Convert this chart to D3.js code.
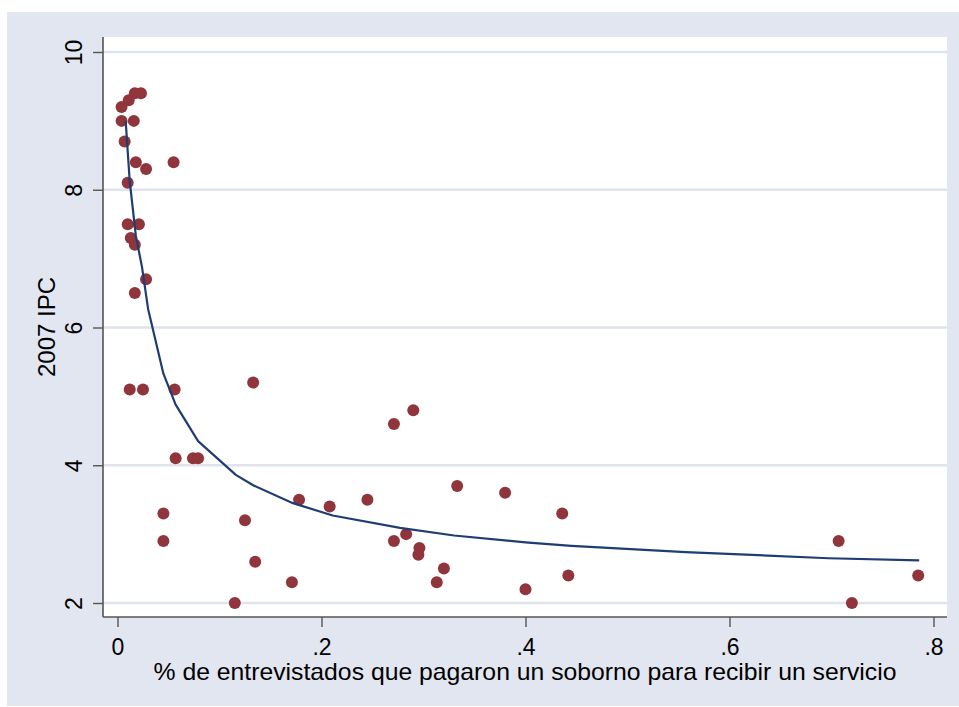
<!DOCTYPE html>
<html>
<head>
<meta charset="utf-8">
<script src="https://cdn.jsdelivr.net/npm/d3@7"></script>
<style>
  html, body { margin: 0; padding: 0; background: #ffffff; }
  svg { display: block; }
  text { font-family: "Liberation Sans", Arial, Helvetica, sans-serif; fill: #000; }
</style>
</head>
<body>
<svg id="chart" width="959" height="707"></svg>
<script>
// ---- Data ----
const bribeShare = [
  0.004, 0.004, 0.011, 0.017, 0.023, 0.016, 0.007, 0.018, 0.028, 0.055,
  0.010, 0.010, 0.021, 0.013, 0.017, 0.028, 0.017, 0.012, 0.025, 0.056,
  0.133, 0.057, 0.074, 0.079, 0.045, 0.045, 0.125, 0.135, 0.115, 0.171,
  0.178, 0.208, 0.245, 0.271, 0.290, 0.271, 0.283, 0.296, 0.295, 0.320,
  0.313, 0.333, 0.380, 0.400, 0.436, 0.442, 0.707, 0.720, 0.785
];
const ipc2007 = [
  9.2, 9.0, 9.3, 9.4, 9.4, 9.0, 8.7, 8.4, 8.3, 8.4,
  8.1, 7.5, 7.5, 7.3, 7.2, 6.7, 6.5, 5.1, 5.1, 5.1,
  5.2, 4.1, 4.1, 4.1, 3.3, 2.9, 3.2, 2.6, 2.0, 2.3,
  3.5, 3.4, 3.5, 4.6, 4.8, 2.9, 3.0, 2.8, 2.7, 2.5,
  2.3, 3.7, 3.6, 2.2, 3.3, 2.4, 2.9, 2.0, 2.4
];
// fitted curve
const fitX = [0.008, 0.012, 0.018, 0.024, 0.030, 0.045, 0.057, 0.079, 0.116, 0.133,
              0.172, 0.211, 0.277, 0.330, 0.400, 0.445, 0.557, 0.697, 0.786];
const fitY = [9.00, 8.12, 7.33, 6.88, 6.27, 5.33, 4.88, 4.35, 3.86, 3.71,
              3.45, 3.27, 3.09, 2.98, 2.88, 2.83, 2.74, 2.65, 2.62];
const xTicks = [0, 0.2, 0.4, 0.6, 0.8];
const xTickLabels = ["0", ".2", ".4", ".6", ".8"];
const yTicks = [2, 4, 6, 8, 10];
const yTickLabels = ["2", "4", "6", "8", "10"];
const xTitle = "% de entrevistados que pagaron un soborno para recibir un servicio";
const yTitle = "2007 IPC";

// ---- Layout ----
const svg = d3.select("#chart");
const plot = { left: 103, right: 947, top: 37, bottom: 617 };

const x = d3.scaleLinear().domain([0, 0.8]).range([117.5, 933.5]);
const y = d3.scaleLinear().domain([2, 10]).range([603, 52]);

// outer graph region
svg.append("rect").attr("x", 7).attr("y", 12).attr("width", 952).attr("height", 694)
  .attr("fill", "#e2e6f0");
// plot region
svg.append("rect").attr("x", plot.left).attr("y", plot.top)
  .attr("width", plot.right - plot.left).attr("height", plot.bottom - plot.top)
  .attr("fill", "#ffffff");

// gridlines
svg.append("g").selectAll("line").data(yTicks).join("line")
  .attr("x1", plot.left).attr("x2", plot.right)
  .attr("y1", d => y(d)).attr("y2", d => y(d))
  .attr("stroke", "#dfe3ee").attr("stroke-width", 2.4);

// y axis
const yAxis = d3.axisLeft(y).tickValues(yTicks)
  .tickFormat((d, i) => yTickLabels[i]).tickSizeInner(10).tickSizeOuter(0).tickPadding(11);
const gy = svg.append("g").attr("transform", `translate(${plot.left},0)`).call(yAxis);
gy.select(".domain").remove();
gy.selectAll(".tick line").attr("stroke", "#555").attr("stroke-width", 1.4);
gy.selectAll(".tick text")
  .attr("font-size", 23)
  .attr("font-family", '"Liberation Sans", Arial, sans-serif')
  .attr("fill", "#000")
  .attr("transform", "rotate(-90)")
  .attr("x", 0).attr("y", -21).attr("dy", 0)
  .attr("text-anchor", "middle");
svg.append("line").attr("x1", plot.left).attr("x2", plot.left)
  .attr("y1", plot.top).attr("y2", plot.bottom)
  .attr("stroke", "#555").attr("stroke-width", 1.6);

// x axis
const xAxis = d3.axisBottom(x).tickValues(xTicks)
  .tickFormat((d, i) => xTickLabels[i]).tickSizeInner(10).tickSizeOuter(0).tickPadding(8);
const gx = svg.append("g").attr("transform", `translate(0,${plot.bottom})`).call(xAxis);
gx.select(".domain").remove();
gx.selectAll(".tick line").attr("stroke", "#555").attr("stroke-width", 1.4);
gx.selectAll(".tick text")
  .attr("font-size", 23)
  .attr("font-family", '"Liberation Sans", Arial, sans-serif')
  .attr("fill", "#000")
  .attr("y", 38).attr("dy", 0);
svg.append("line").attr("x1", plot.left).attr("x2", plot.right)
  .attr("y1", plot.bottom).attr("y2", plot.bottom)
  .attr("stroke", "#555").attr("stroke-width", 1.6);

// titles
svg.append("text").attr("x", (plot.left + plot.right) / 2).attr("y", 680)
  .attr("text-anchor", "middle").attr("font-size", 24)
  .attr("textLength", 743).attr("lengthAdjust", "spacingAndGlyphs")
  .text(xTitle);
svg.append("text")
  .attr("transform", `translate(55,${(plot.top + plot.bottom) / 2}) rotate(-90)`)
  .attr("text-anchor", "middle").attr("font-size", 24)
  .attr("textLength", 100).attr("lengthAdjust", "spacingAndGlyphs")
  .text(yTitle);

// scatter points
const pts = bribeShare.map((v, i) => ({ x: v, y: ipc2007[i] }));
svg.append("g").selectAll("circle").data(pts).join("circle")
  .attr("cx", d => x(d.x)).attr("cy", d => y(d.y)).attr("r", 6)
  .attr("fill", "#90353b");

// fitted line
const fit = fitX.map((v, i) => [v, fitY[i]]);
svg.append("path").datum(fit)
  .attr("d", d3.line().x(d => x(d[0])).y(d => y(d[1])))
  .attr("fill", "none").attr("stroke", "#1f3d73").attr("stroke-width", 2.2)
  .attr("stroke-linejoin", "round");
</script>
</body>
</html>
